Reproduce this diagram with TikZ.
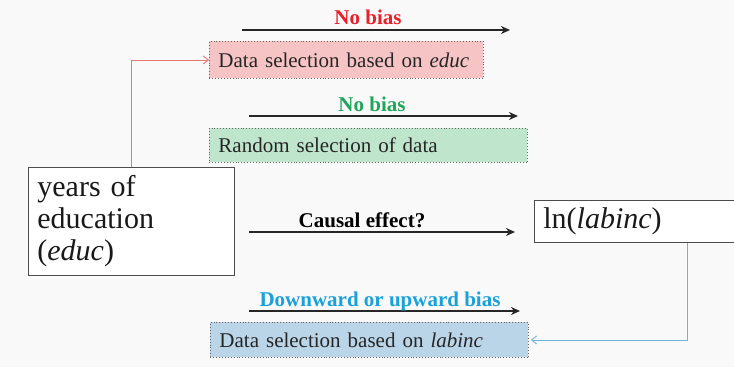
\documentclass[tikz,border=0pt]{standalone}
\usepackage{fontspec}
\setmainfont{Liberation Serif}
\usetikzlibrary{arrows.meta}
\definecolor{redtxt}{HTML}{E8202A}
\definecolor{redln}{HTML}{E87878}
\definecolor{redfill}{HTML}{F6C4C4}
\definecolor{greentxt}{HTML}{1FA65A}
\definecolor{greenfill}{HTML}{BFE6CD}
\definecolor{bluetxt}{HTML}{1BA1D9}
\definecolor{blueln}{HTML}{72B2D2}
\definecolor{bluefill}{HTML}{BAD4E8}
\definecolor{bg}{HTML}{F9F9F9}
\tikzset{
  selbox/.style={draw=gray!80!black, dotted, line width=0.9pt, anchor=north west,
    inner xsep=9pt, inner ysep=0pt, align=left,
    font=\fontsize{21}{24}\selectfont, text=black!85},
  bigbox/.style={draw=black!70, line width=0.8pt, anchor=north west,
    inner xsep=9pt, inner ysep=0pt, align=left,
    font=\fontsize{30}{32}\selectfont, text=black!90},
  mainarrow/.style={line width=1.8pt, draw=black!85, -{Stealth[length=9pt,width=8pt]}},
  lbl/.style={font=\fontsize{21}{24}\selectfont\bfseries, anchor=base, inner sep=0pt},
  conn/.style={line width=0.9pt, -{Straight Barb[length=5pt,width=8pt]}}
}
\begin{document}
\begin{tikzpicture}[x=1pt,y=-1pt]
\useasboundingbox (0,0) rectangle (734,367);
\fill[bg] (0,0) rectangle (734,367);
% boxes
\node[selbox, fill=redfill, text width=256pt, minimum height=37pt] (redbox) at (209,41) {Data selection based on \textit{educ}};
\node[selbox, fill=greenfill, text width=300pt, minimum height=34pt] (greenbox) at (209,128) {Random selection of data};
\node[selbox, fill=bluefill, text width=300pt, minimum height=35pt] (bluebox) at (210,322) {Data selection based on \textit{labinc}};
\node[bigbox, fill=white, text width=188pt, minimum height=108pt] (educ) at (28,167) {years of\\education\\(\textit{educ})};
\node[bigbox, fill=white, text width=182pt, minimum height=42pt] (labinc) at (534,200) {ln(\textit{labinc})};
% arrows with labels
\coordinate (a1s) at (242,30); \coordinate (a1e) at (510,30);
\draw[mainarrow] (a1s) -- (a1e);
\node[lbl, text=redtxt] (l1) at (368,24) {No bias};
\coordinate (a2s) at (249,116); \coordinate (a2e) at (518,116);
\draw[mainarrow] (a2s) -- (a2e);
\node[lbl, text=greentxt] (l2) at (372,111) {No bias};
\coordinate (a3s) at (249,232); \coordinate (a3e) at (515,232);
\draw[mainarrow] (a3s) -- (a3e);
\node[lbl, text=black] (l3) at (362,227) {Causal effect?};
\coordinate (a4s) at (249,311); \coordinate (a4e) at (520,311);
\draw[mainarrow] (a4s) -- (a4e);
\node[lbl, text=bluetxt] (l4) at (380,306) {Downward or upward bias};
% connectors
\draw[conn, redln] (educ.north -| 131,0) |- (redbox.west);
\draw[conn, blueln] (labinc.south -| 687,0) |- ([xshift=2pt]bluebox.east);
\end{tikzpicture}
\end{document}
